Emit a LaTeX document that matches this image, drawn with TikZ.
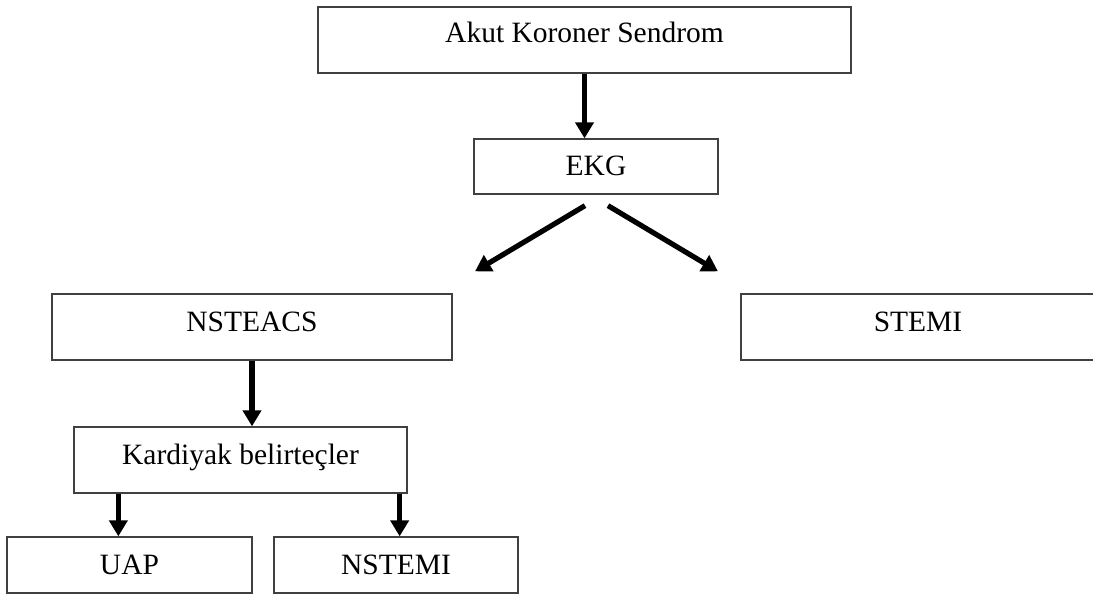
\documentclass[tikz,border=0pt]{standalone}
\usepackage{fontspec}
\setmainfont{Liberation Serif}
\usetikzlibrary{arrows.meta,calc}
\begin{document}
\begin{tikzpicture}[x=1bp,y=-1bp,
  box/.style={draw=black!75, line width=1.3bp, inner sep=0pt, fill=white,
    font=\fontsize{29.5bp}{34bp}\selectfont, text height=19bp, text depth=0bp},
  arr/.style={line width=5.2bp, -{Triangle[width=18bp,length=16bp]}}]
\useasboundingbox (0,0) rectangle (1093,597);
\node[box, minimum width=533bp, minimum height=66bp, text depth=13bp] (akut) at (584.5,40) {Akut Koroner Sendrom};
\node[box, minimum width=244bp, minimum height=55bp] (ekg) at (596,166.5) {EKG};
\node[box, minimum width=400bp, minimum height=66bp, text depth=10bp] (nsteacs) at (252,327) {NSTEACS};
\node[box, minimum width=354bp, minimum height=66bp, text depth=10bp] (stemi) at (918,327) {STEMI};
\node[box, minimum width=333bp, minimum height=66bp, text depth=10bp] (kard) at (240.5,460) {Kardiyak belirteçler};
\node[box, minimum width=245bp, minimum height=56bp] (uap) at (129.5,565) {UAP};
\node[box, minimum width=244bp, minimum height=56bp] (nstemi) at (396,565) {NSTEMI};
% free ends of the diagonal connectors
\coordinate (ls) at ($(ekg.south)+(-11,11)$);
\coordinate (le) at ($(nsteacs.north)+(223,-22)$);
\coordinate (rs) at ($(ekg.south)+(12,11)$);
\coordinate (re) at ($(stemi.north)+(-200,-22)$);
\coordinate (k1) at ($(kard.south west)+(45,0)$);
\coordinate (k2) at ($(kard.south east)+(-8,0)$);
\draw[arr] (akut.south) -- (akut.south |- ekg.north);
\draw[arr] (ls) -- (le);
\draw[arr] (rs) -- (re);
\draw[arr] (nsteacs.south) -- (nsteacs.south |- kard.north);
\draw[arr] (k1) -- (k1 |- uap.north);
\draw[arr] (k2) -- (k2 |- nstemi.north);
\end{tikzpicture}
\end{document}
